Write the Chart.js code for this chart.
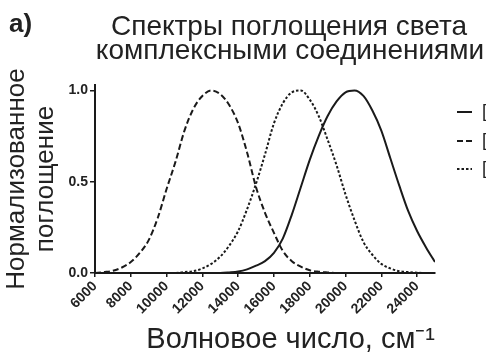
<!DOCTYPE html>
<html>
<head>
<meta charset="utf-8">
<script src="https://cdn.jsdelivr.net/npm/chart.js@4"></script>
<style>
  html, body { margin: 0; padding: 0; background: #fff; }
  #wrap { width: 486px; height: 355px; position: relative; }
</style>
</head>
<body>
<div id="wrap"><canvas id="spectra"></canvas></div>
<script>
// wavenumber grid, cm-1
const wavenumbers = [6000, 6500, 7000, 7500, 8000, 8500, 9000, 9500, 10000, 10500,
  11000, 11500, 12000, 12500, 13000, 13500, 14000, 14500, 15000, 15500,
  16000, 16500, 17000, 17500, 18000, 18500, 19000, 19500, 20000, 20500,
  21000, 21500, 22000, 22500, 23000, 23500, 24000, 24500, 25000];

// normalized absorbance
const tiValues = [0, 0, 0, 0, 0, 0, 0, 0, 0, 0,
  0, 0, 0, 0, 0, 0.003, 0.008, 0.02, 0.04, 0.065,
  0.11, 0.19, 0.32, 0.47, 0.62, 0.75, 0.86, 0.94, 0.99, 1.0,
  0.97, 0.89, 0.78, 0.63, 0.48, 0.34, 0.23, 0.14, 0.06];
const cuValues = [0, 0.005, 0.012, 0.03, 0.06, 0.11, 0.18, 0.30, 0.46, 0.61,
  0.78, 0.90, 0.97, 1.0, 0.98, 0.92, 0.82, 0.66, 0.47, 0.33,
  0.22, 0.12, 0.065, 0.035, 0.015, 0.007, 0.003, 0, 0, 0,
  0, 0, 0, 0, 0, 0, 0, 0, 0];
const crValues = [0, 0, 0, 0, 0, 0, 0, 0, 0, 0,
  0.005, 0.01, 0.025, 0.05, 0.09, 0.15, 0.23, 0.35, 0.49, 0.65,
  0.82, 0.93, 0.99, 1.0, 0.95, 0.86, 0.73, 0.59, 0.43, 0.29,
  0.17, 0.10, 0.05, 0.025, 0.01, 0.005, 0.002, 0, 0];

const seriesLabels = ['[Ti(H\u2082O)\u2086]\u00b3\u207a', '[Cu(H\u2082O)\u2086]\u00b2\u207a', '[Cr(H\u2082O)\u2086]\u00b3\u207a'];
const xTicks = [6000, 8000, 10000, 12000, 14000, 16000, 18000, 20000, 22000, 24000];
const yTicks = [0, 0.5, 1.0];

const titleLines = ['Спектры поглощения света', 'комплексными соединениями'];
const panelLabel = 'а)';
const yTitle = ['Нормализованное', 'поглощение'];
const xTitle = 'Волновое число, см\u207b\u00b9';

const FONT = '"Liberation Sans", Arial, sans-serif';
const ink = '#1a1a1a';

function toPoints(vals) {
  return wavenumbers.map((x, i) => ({ x: x, y: vals[i] }));
}

const lineStyle = {
  borderColor: ink,
  borderWidth: 2,
  pointRadius: 0,
  fill: false,
  cubicInterpolationMode: 'monotone'
};

// title, panel letter and legend on the right
const decorations = {
  id: 'decorations',
  afterDraw(chart) {
    const ctx = chart.ctx;
    ctx.save();
    ctx.fillStyle = '#222';
    ctx.textAlign = 'left';
    ctx.textBaseline = 'alphabetic';
    ctx.font = 'bold 26px ' + FONT;
    ctx.fillText(panelLabel, 9, 32);

    ctx.textAlign = 'center';
    ctx.font = '28px ' + FONT;
    ctx.fillText(titleLines[0], 289, 35);
    ctx.fillText(titleLines[1], 290, 59);

    const rows = [112, 141, 169];
    chart.data.datasets.forEach((ds, i) => {
      ctx.strokeStyle = ink;
      ctx.lineWidth = 2;
      ctx.setLineDash(ds.borderDash || []);
      ctx.beginPath();
      ctx.moveTo(457, rows[i]);
      ctx.lineTo(472, rows[i]);
      ctx.stroke();
      ctx.setLineDash([]);
      ctx.textAlign = 'left';
      ctx.textBaseline = 'middle';
      ctx.font = '18px ' + FONT;
      ctx.fillStyle = '#222';
      ctx.fillText(ds.label, 482, rows[i]);
    });
    ctx.restore();
  }
};

new Chart(document.getElementById('spectra'), {
  type: 'line',
  data: {
    datasets: [
      Object.assign({ label: seriesLabels[0], data: toPoints(tiValues), borderDash: [] }, lineStyle),
      Object.assign({ label: seriesLabels[1], data: toPoints(cuValues), borderDash: [6, 3] }, lineStyle),
      Object.assign({ label: seriesLabels[2], data: toPoints(crValues), borderDash: [2.5, 2] }, lineStyle)
    ]
  },
  options: {
    responsive: true,
    maintainAspectRatio: false,
    animation: false,
    layout: { padding: { top: 85, right: 51, left: 0, bottom: 0 } },
    plugins: {
      legend: { display: false },
      tooltip: { enabled: false }
    },
    scales: {
      x: {
        type: 'linear',
        min: 6000,
        max: 25000,
        afterFit: s => { s.height = 82; },
        afterBuildTicks: s => { s.ticks = xTicks.map(v => ({ value: v })); },
        ticks: {
          autoSkip: false,
          maxRotation: 45,
          minRotation: 45,
          padding: 1,
          color: '#222',
          font: { family: FONT, size: 14, weight: 'bold' },
          callback: v => String(v)
        },
        grid: { drawOnChartArea: false, drawTicks: true, tickLength: 4, color: ink, lineWidth: 1.5 },
        border: { display: true, color: ink, width: 2 },
        title: {
          display: true,
          text: xTitle,
          align: 'end',
          color: '#222',
          font: { family: FONT, size: 29, lineHeight: 1.0 },
          padding: { top: 0, bottom: 1 }
        }
      },
      y: {
        min: 0,
        max: 1.03,
        afterFit: s => { s.width = 95; },
        afterBuildTicks: s => { s.ticks = yTicks.map(v => ({ value: v })); },
        ticks: {
          padding: 2,
          color: '#222',
          font: { family: FONT, size: 14, weight: 'bold' },
          callback: v => v.toFixed(1)
        },
        grid: { drawOnChartArea: false, drawTicks: true, tickLength: 5, color: ink, lineWidth: 1.5 },
        border: { display: true, color: ink, width: 2 },
        title: {
          display: true,
          text: yTitle,
          color: '#222',
          font: { family: FONT, size: 26, lineHeight: 1.1 },
          padding: { top: 3, bottom: 0 }
        }
      }
    }
  },
  plugins: [decorations]
});
</script>
</body>
</html>
